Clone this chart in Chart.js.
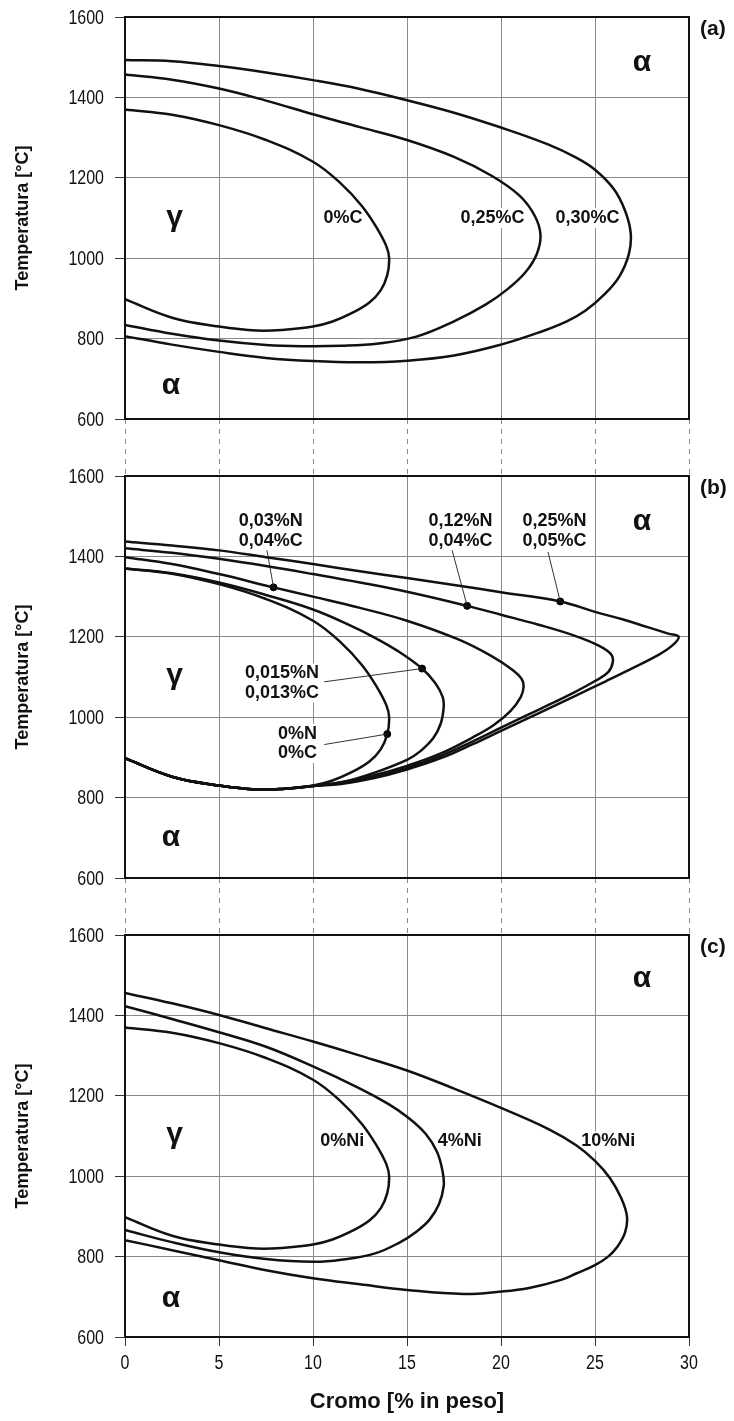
<!DOCTYPE html>
<html>
<head>
<meta charset="utf-8">
<title>Diagrammi Fe-Cr</title>
<script src="https://cdn.jsdelivr.net/npm/chart.js@4.4.0/dist/chart.umd.min.js"></script>
<style>
  body { margin: 0; background: #fff; }
  #wrap { position: relative; width: 734px; height: 1421px; }
  canvas { position: absolute; left: 0; }
</style>
</head>
<body>
<div id="wrap">
  <canvas id="chartA" width="734" height="476" style="top:0px"></canvas>
  <canvas id="chartB" width="734" height="476" style="top:459px"></canvas>
  <canvas id="chartC" width="734" height="503" style="top:918px"></canvas>
</div>
<script>
// --- data (Cr in % peso, T in °C) ---
const crRange = [0, 30]
const tRange = [600, 1600]

// 0%C / 0%N 0%C / 0%Ni : same loop in all three panels
const crBase = [0, 2.5, 5, 7.5, 10, 11.5, 12.6, 13.4, 13.9, 14.05, 13.95, 13.6, 13, 12, 11, 10, 8.5, 7, 5, 2.5, 0]
const tBase  = [1370, 1357, 1331, 1294, 1240, 1185, 1130, 1075, 1030, 1000, 958, 920, 890, 862, 842, 830, 822, 820, 830, 852, 898]

// (a) carbon
const crC25 = [0, 2.5, 5, 7.5, 10, 12.5, 15, 17.5, 19.5, 21, 21.8, 22.1, 21.9, 21.3, 20.4, 19.2, 17.5, 15.5, 13.5, 11.5, 9.5, 7.5, 5, 2.5, 0]
const tC25  = [1457, 1444, 1422, 1392, 1358, 1326, 1294, 1252, 1205, 1155, 1105, 1058, 1010, 965, 925, 885, 843, 805, 788, 782, 781, 784, 795, 812, 834]
const crC30 = [0, 2.5, 5, 7.5, 10, 12.5, 15, 17.5, 20, 22.5, 24, 25, 26, 26.6, 26.9, 26.8, 26.3, 25.5, 24.5, 23.5, 22, 20, 17.5, 15, 12.5, 10, 7.5, 5, 2.5, 0]
const tC30  = [1493, 1490, 1478, 1462, 1443, 1421, 1393, 1362, 1325, 1283, 1250, 1220, 1172, 1118, 1062, 1010, 955, 910, 870, 843, 815, 785, 758, 745, 741, 744, 752, 767, 785, 806]

// (b) nitrogen + carbon
const crN015 = [0, 2.5, 5, 7.5, 10, 12, 13.2, 14.5, 15.8, 16.5, 16.9, 16.95, 16.8, 16.4, 15.7, 15, 13.2, 11.5, 10, 8.5, 7, 5, 2.5, 0]
const tN015  = [1370, 1358, 1335, 1304, 1268, 1228, 1200, 1165, 1121, 1085, 1050, 1025, 985, 948, 915, 894, 861, 838, 829, 822, 820, 830, 852, 898]
const crN03 = [0, 2.5, 5, 7.9, 10, 12.5, 15, 17.7, 19.5, 20.6, 21.1, 21.2, 21.05, 20.5, 19.6, 18.5, 16.8, 15, 13.2, 11.5, 10, 8.5, 7, 5, 2.5, 0]
const tN03  = [1398, 1381, 1356, 1323, 1300, 1272, 1240, 1194, 1152, 1118, 1095, 1075, 1050, 1015, 980, 950, 910, 879, 855, 838, 829, 822, 820, 830, 852, 898]
const crN12 = [0, 2.5, 5, 7.5, 10, 12.5, 15, 18.2, 20, 22, 23.9, 25.2, 25.85, 25.95, 25.7, 25, 23.9, 22.1, 20, 18.5, 16.8, 15, 13.2, 11.5, 10, 8.5, 7, 5, 2.5, 0]
const tN12  = [1420, 1409, 1394, 1376, 1356, 1335, 1312, 1277, 1255, 1230, 1203, 1178, 1157, 1138, 1112, 1090, 1062, 1021, 974, 940, 904, 874, 851, 836, 829, 822, 820, 830, 852, 898]
const crN25 = [0, 2.5, 5, 7.5, 10, 12.5, 15, 17.5, 20, 23.15, 25, 26.5, 27.8, 28.9, 29.45, 29.1, 28.3, 27, 25.6, 23.9, 22.1, 20, 18.5, 16.8, 15, 13.2, 11.5, 10, 8.5, 7, 5, 2.5, 0]
const tN25  = [1437, 1427, 1415, 1398, 1381, 1363, 1346, 1329, 1311, 1288, 1262, 1243, 1224, 1208, 1200, 1178, 1153, 1122, 1090, 1052, 1012, 966, 933, 898, 870, 848, 834, 829, 822, 820, 830, 852, 898]

// marked points on the (b) curves: 0%N, 0,015%N, 0,03%N, 0,12%N, 0,25%N
const dotCr = [13.95, 15.8, 7.9, 18.2, 23.15]
const dotT  = [958, 1121, 1323, 1277, 1288]
// leader lines: label end -> marked point
const leadCr = [[10.6, 13.95], [10.6, 15.8], [7.55, 7.9], [17.4, 18.2], [22.5, 23.15]]
const leadT  = [[932, 958], [1088, 1121], [1415, 1323], [1415, 1277], [1411, 1288]]

// (c) nickel
const crNi4 = [0, 2.5, 5, 7.5, 10, 12.5, 14, 15, 16, 16.6, 16.9, 16.95, 16.7, 16.2, 15.5, 14.6, 13.3, 11.5, 10, 7.5, 5, 2.5, 0]
const tNi4  = [1423, 1391, 1358, 1322, 1273, 1218, 1180, 1148, 1105, 1060, 1010, 975, 930, 892, 862, 835, 808, 792, 787, 794, 811, 836, 866]
const crNi10 = [0, 2.5, 5, 7.5, 10, 12.5, 15, 17.5, 20, 22.5, 24, 25, 25.8, 26.4, 26.7, 26.6, 26.2, 25.7, 25, 24, 23.2, 21.5, 20, 18, 15, 12.5, 10, 7.5, 5, 2.5, 0]
const tNi10  = [1456, 1430, 1401, 1368, 1335, 1300, 1263, 1218, 1170, 1118, 1077, 1038, 995, 945, 900, 860, 825, 800, 779, 758, 742, 722, 713, 707, 717, 731, 746, 766, 791, 816, 841]

// text labels [text, Cr, T]
const labelsA = [['γ', 2.64, 1100], ['α', 27.5, 1487], ['α', 2.44, 683],
                 ['0%C', 11.6, 1100], ['0,25%C', 19.55, 1100], ['0,30%C', 24.6, 1100]]
const labelsB = [['γ', 2.64, 1102], ['α', 27.5, 1487], ['α', 2.44, 700],
                 ['0,03%N', 7.75, 1487], ['0,04%C', 7.75, 1437],
                 ['0,12%N', 17.85, 1487], ['0,04%C', 17.85, 1437],
                 ['0,25%N', 22.85, 1487], ['0,05%C', 22.85, 1437],
                 ['0,015%N', 8.35, 1109], ['0,013%C', 8.35, 1061],
                 ['0%N', 9.17, 959], ['0%C', 9.17, 911]]
const labelsC = [['γ', 2.64, 1102], ['α', 27.5, 1491], ['α', 2.44, 696],
                 ['0%Ni', 11.55, 1087], ['4%Ni', 17.8, 1087], ['10%Ni', 25.7, 1087]]

const FONT = "'Liberation Sans', Arial, sans-serif"
Chart.defaults.font.family = FONT
Chart.defaults.color = '#111'

function pts(cr, t) {
  return cr.map((v, i) => ({x: v, y: t[i]}))
}

function curve(cr, t) {
  return {data: pts(cr, t), showLine: true, borderColor: '#111', borderWidth: 2.5,
          tension: 0.4, pointRadius: 0, fill: false}
}

// condensed tick text (the original uses a narrow face)
function narrowText(ctx, text, px, py) {
  ctx.save()
  ctx.translate(px, py)
  ctx.scale(0.8, 1)
  ctx.fillText(text, 0, 0)
  ctx.restore()
}

const panelDecor = {
  id: 'panelDecor',
  beforeDatasetsDraw(chart, args, opts) {
    const {ctx, chartArea: a, scales: {x, y}} = chart
    ctx.save()
    ctx.textAlign = 'center'
    ctx.textBaseline = 'middle'
    opts.labels.forEach(([text, cr, t]) => {
      const greek = text === 'α' || text === 'γ'
      ctx.font = greek ? 'bold 30px ' + FONT : 'bold 18px ' + FONT
      const px = x.getPixelForValue(cr), py = y.getPixelForValue(t)
      if (!greek) {
        const w = ctx.measureText(text).width
        ctx.fillStyle = '#fff'
        ctx.fillRect(px - w / 2 - 2, py - 10, w + 4, 20)
      }
      ctx.fillStyle = '#111'
      ctx.fillText(text, px, py)
    })

    // tick labels
    ctx.font = '20px ' + FONT
    ctx.fillStyle = '#111'
    ctx.textAlign = 'right'
    y.ticks.forEach(tk => narrowText(ctx, String(tk.value), a.left - 21, y.getPixelForValue(tk.value) + 1))
    if (opts.bottom) {
      ctx.textAlign = 'center'
      x.ticks.forEach(tk => narrowText(ctx, String(tk.value), x.getPixelForValue(tk.value), a.bottom + 26))
    }

    ctx.font = 'bold 21px ' + FONT
    ctx.textAlign = 'left'
    ctx.fillText(opts.tag, a.right + 11, a.top + 12)
    ctx.restore()
  },
  afterDatasetsDraw(chart) {
    const {ctx, chartArea: a} = chart
    ctx.save()
    ctx.strokeStyle = '#111'
    ctx.lineWidth = 2
    ctx.strokeRect(a.left, a.top, a.right - a.left, a.bottom - a.top)
    ctx.restore()
  }
}

function makeChart(id, datasets, labels, tag, bottom) {
  return new Chart(document.getElementById(id), {
    type: 'scatter',
    data: {datasets: datasets},
    plugins: [panelDecor],
    options: {
      responsive: false,
      animation: false,
      devicePixelRatio: 1,
      layout: {padding: {top: 17, right: 45, left: 0, bottom: 0}},
      plugins: {
        legend: {display: false},
        tooltip: {enabled: false},
        panelDecor: {labels: labels, tag: tag, bottom: bottom}
      },
      scales: {
        x: {
          type: 'linear', min: crRange[0], max: crRange[1],
          ticks: {stepSize: 5, display: false},
          grid: {color: '#8a8a8a', lineWidth: 1, tickLength: bottom ? 9 : 57,
                 tickColor: bottom ? '#333' : '#8a8a8a', tickBorderDash: bottom ? [] : [5, 5]},
          border: {display: false},
          title: {display: bottom, text: 'Cromo [% in peso]', font: {size: 22, weight: 'bold'},
                  padding: {top: 0, bottom: 6}},
          afterFit: s => { s.height = bottom ? 84 : 57 }
        },
        y: {
          min: tRange[0], max: tRange[1],
          ticks: {stepSize: 200, display: false},
          grid: {color: '#8a8a8a', lineWidth: 1, tickLength: 10, tickColor: '#333'},
          border: {display: false},
          title: {display: true, text: 'Temperatura [°C]', font: {size: 18, weight: 'bold'},
                  padding: {top: 12, bottom: 0}},
          afterFit: s => { s.width = 125 }
        }
      }
    }
  })
}

const dots = {data: pts(dotCr, dotT), pointRadius: 3.5, pointBackgroundColor: '#000',
              pointBorderColor: '#000', showLine: false}
const leaders = leadCr.map((cr, i) => ({data: pts(cr, leadT[i]), showLine: true,
  borderColor: '#333', borderWidth: 1, pointRadius: 0, tension: 0}))

makeChart('chartA', [curve(crBase, tBase), curve(crC25, tC25), curve(crC30, tC30)], labelsA, '(a)', false)
makeChart('chartB', [curve(crBase, tBase), curve(crN015, tN015), curve(crN03, tN03),
                     curve(crN12, tN12), curve(crN25, tN25), ...leaders, dots], labelsB, '(b)', false)
makeChart('chartC', [curve(crBase, tBase), curve(crNi4, tNi4), curve(crNi10, tNi10)], labelsC, '(c)', true)
</script>
</body>
</html>
